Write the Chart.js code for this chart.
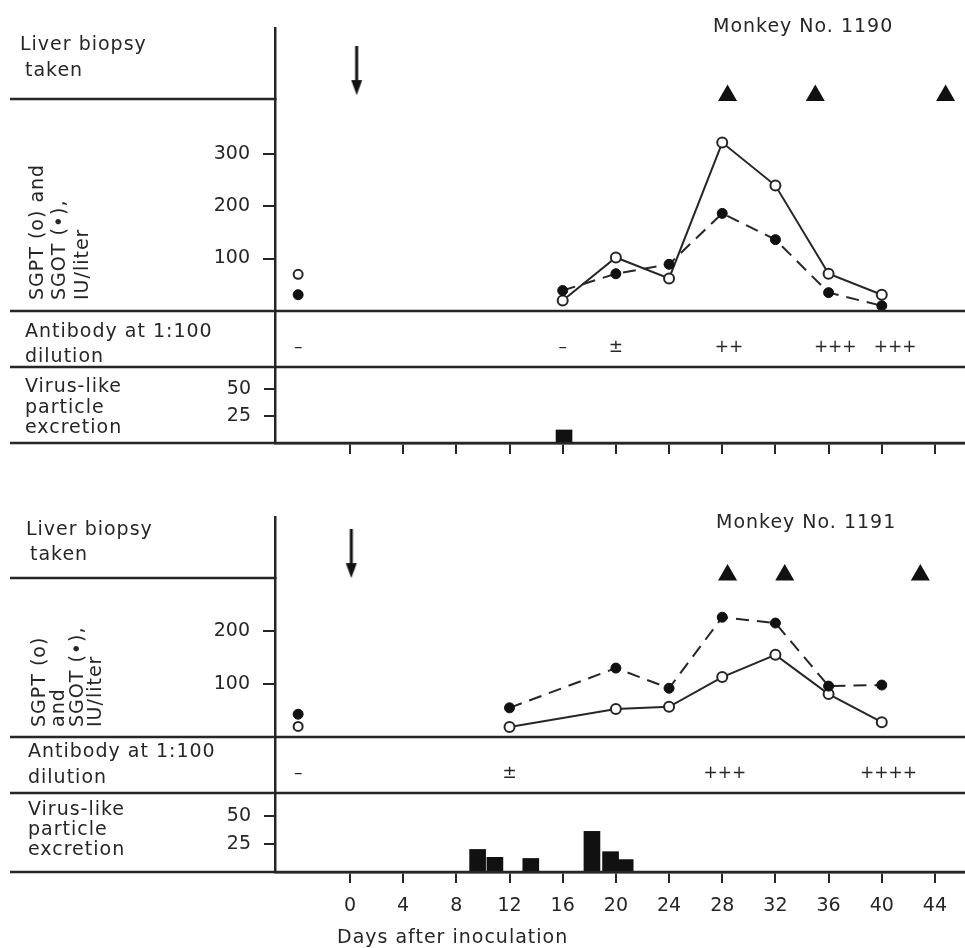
<!DOCTYPE html>
<html>
<head>
<meta charset="utf-8">
<script src="https://cdn.jsdelivr.net/npm/chart.js@4.4.0/dist/chart.umd.min.js"></script>
<style>
    html, body { margin: 0; padding: 0; background: #fff; }
    #page { position: relative; width: 965px; height: 948px; overflow: hidden; }
    .panel { position: absolute; left: 0; width: 965px; }
</style>
</head>
<body>
<div id="page">
    <div class="panel" style="top:0;height:470px"><canvas id="chart1190"></canvas></div>
    <div class="panel" style="top:470px;height:478px"><canvas id="chart1191"></canvas></div>
</div>
<script>
// Days after inoculation (shared x axis)
const xTicks = [0, 4, 8, 12, 16, 20, 24, 28, 32, 36, 40, 44];
const vlpTicks = [25, 50];
const preDay = -3.9;

// Monkey No. 1190
const days1190 = [16, 20, 24, 28, 32, 36, 40];
const sgpt1190 = [20, 102, 62, 321, 239, 71, 31];
const sgot1190 = [39, 71, 89, 186, 136, 35, 10];
const preSgpt1190 = 70;
const preSgot1190 = 31;
const inoculation1190 = 0.5;
const biopsyDays1190 = [28.4, 35, 44.8];
const abDays1190 = [-3.9, 16, 20, 28.5, 36.5, 41];
const abSigns1190 = ['\u2013', '\u2013', '\u00b1', '++', '+++', '+++'];
const vlpDays1190 = [16.1];
const vlpValues1190 = [12];
const enzTicks1190 = [100, 200, 300];

// Monkey No. 1191
const days1191 = [12, 20, 24, 28, 32, 36, 40];
const sgpt1191 = [19, 53, 57, 113, 155, 81, 28];
const sgot1191 = [55, 130, 92, 226, 215, 96, 98];
const preSgpt1191 = 20;
const preSgot1191 = 43;
const inoculation1191 = 0.1;
const biopsyDays1191 = [28.4, 32.7, 42.9];
const abDays1191 = [-3.9, 12, 28.2, 40.5];
const abSigns1191 = ['\u2013', '\u00b1', '+++', '++++'];
const vlpDays1191 = [9.6, 10.9, 13.6, 18.2, 19.6, 20.7];
const vlpValues1191 = [20, 13, 12, 36, 18, 11];
const enzTicks1191 = [100, 200];

const INK = '#262626';
const FONT = 'DejaVu Sans';
const X_MIN = -5.64;
const X_MAX = 46.26;
const AXIS_X = 275;
const LINE_LEFT = 10;
const ARROW_Y = 0.4;
const BIOPSY_Y = 0.05;
const AB_Y = 0.35;

Chart.defaults.font.family = FONT;
Chart.defaults.font.size = 19;
Chart.defaults.color = INK;

// inoculation arrow used as a point style
function makeArrow() {
    const c = document.createElement('canvas');
    c.width = 14;
    c.height = 49;
    const g = c.getContext('2d');
    g.fillStyle = '#111';
    g.fillRect(5.5, 0, 3, 36);
    g.beginPath();
    g.moveTo(1.5, 34);
    g.lineTo(12.5, 34);
    g.lineTo(7, 49);
    g.closePath();
    g.fill();
    return c;
}

function pts(xs, ys) {
    return xs.map((x, i) => ({ x: x, y: ys[i] }));
}

function decorPlugin(p) {
    return {
        id: 'decor' + p.name,
        afterDraw(chart) {
            const ctx = chart.ctx;
            const { x, enz, ab, vir } = chart.scales;
            const dy = p.offsetY;
            ctx.save();
            // row separators
            ctx.strokeStyle = INK;
            ctx.lineWidth = 2.5;
            [[enz.top, false], [ab.top, true], [vir.top, true], [vir.bottom, true]].forEach(([y, full]) => {
                ctx.beginPath();
                ctx.moveTo(LINE_LEFT, y);
                ctx.lineTo(full ? chart.width : x.left, y);
                ctx.stroke();
            });
            // antibody signs
            ctx.fillStyle = INK;
            ctx.font = '17px ' + FONT;
            ctx.textAlign = 'center';
            ctx.textBaseline = 'middle';
            p.abDays.forEach((d, i) => {
                ctx.fillText(p.abSigns[i], x.getPixelForValue(d), ab.getPixelForValue(AB_Y));
            });
            // row labels
            ctx.font = '19px ' + FONT;
            ctx.letterSpacing = '1px';
            ctx.textAlign = 'left';
            p.labels.forEach(l => ctx.fillText(l[0], l[1], l[2] - dy));
            ctx.textBaseline = 'alphabetic';
            p.rotLabels.forEach(l => {
                ctx.save();
                ctx.translate(l[1], l[2] - dy);
                ctx.rotate(-Math.PI / 2);
                ctx.fillText(l[0], 0, 0);
                ctx.restore();
            });
            ctx.restore();
        }
    };
}

function buildPanel(p) {
    const fitY = s => { s.width = AXIS_X; };
    const yBase = {
        type: 'linear', position: 'left', stack: 'panel', min: 0, afterFit: fitY,
        border: { display: true, color: INK, width: 2.5 }
    };
    const chart = new Chart(document.getElementById(p.canvas), {
        type: 'line',
        data: {
            datasets: [
                {
                    type: 'line', label: 'SGOT', data: pts(p.days, p.sgot), yAxisID: 'enz',
                    borderColor: INK, borderWidth: 2, borderDash: [13, 8], tension: 0,
                    pointRadius: 5, pointBackgroundColor: '#111', pointBorderColor: '#111', pointBorderWidth: 1, clip: false
                },
                {
                    type: 'line', label: 'SGPT', data: pts(p.days, p.sgpt), yAxisID: 'enz',
                    borderColor: INK, borderWidth: 2, tension: 0,
                    pointRadius: 5, pointBackgroundColor: '#fff', pointBorderColor: INK, pointBorderWidth: 2, clip: false
                },
                {
                    type: 'scatter', label: 'SGOT pre', data: [{ x: preDay, y: p.preSgot }], yAxisID: 'enz',
                    pointRadius: 5, pointBackgroundColor: '#111', pointBorderColor: '#111', clip: false
                },
                {
                    type: 'scatter', label: 'SGPT pre', data: [{ x: preDay, y: p.preSgpt }], yAxisID: 'enz',
                    pointRadius: 4.5, pointBackgroundColor: '#fff', pointBorderColor: INK, pointBorderWidth: 2, clip: false
                },
                {
                    type: 'scatter', label: 'Liver biopsy', data: p.biopsyDays.map(d => ({ x: d, y: BIOPSY_Y })), yAxisID: 'bio',
                    pointStyle: 'triangle', pointRadius: 11, pointBackgroundColor: '#111', pointBorderColor: '#111', pointBorderWidth: 0, clip: false
                },
                {
                    type: 'scatter', label: 'Inoculation', data: [{ x: p.inoculation, y: ARROW_Y }], yAxisID: 'bio',
                    pointStyle: makeArrow(), pointRadius: 10, clip: false
                },
                {
                    type: 'bar', label: 'Virus-like particles', data: pts(p.vlpDays, p.vlpValues), yAxisID: 'vir',
                    backgroundColor: '#111', barThickness: 16, borderWidth: 0
                }
            ]
        },
        options: {
            responsive: true,
            maintainAspectRatio: false,
            animation: false,
            layout: { autoPadding: false, padding: { top: p.padTop, left: 0, right: 0, bottom: 0 } },
            plugins: { legend: { display: false }, tooltip: { enabled: false } },
            scales: {
                x: {
                    type: 'linear', position: 'bottom', min: X_MIN, max: X_MAX, offset: false,
                    afterBuildTicks: s => { s.ticks = xTicks.map(v => ({ value: v })); },
                    afterFit: s => {
                        s.height = p.xHeight;
                        s.paddingLeft = 0;
                        s.paddingRight = 0;
                    },
                    grid: { offset: false, drawOnChartArea: false, drawTicks: true, tickLength: 11, color: INK, lineWidth: 2 },
                    border: { display: true, color: INK, width: 2.5 },
                    ticks: { display: p.showX, padding: 12, color: INK, font: { size: 19 }, maxRotation: 0, autoSkip: false }
                },
                bio: Object.assign({}, yBase, {
                    weight: 4, stackWeight: p.rows[0], max: 1,
                    ticks: { display: false }, grid: { display: false }
                }),
                enz: Object.assign({}, yBase, {
                    weight: 3, stackWeight: p.rows[1], max: p.enzMax,
                    afterBuildTicks: s => { s.ticks = p.enzTicks.map(v => ({ value: v })); },
                    ticks: { padding: 13, color: INK, font: { size: 19 } },
                    grid: { drawOnChartArea: false, tickLength: 12, color: INK, lineWidth: 2 }
                }),
                ab: Object.assign({}, yBase, {
                    weight: 2, stackWeight: p.rows[2], max: 1,
                    ticks: { display: false }, grid: { display: false }
                }),
                vir: Object.assign({}, yBase, {
                    weight: 1, stackWeight: p.rows[3], max: 70,
                    afterBuildTicks: s => { s.ticks = vlpTicks.map(v => ({ value: v })); },
                    ticks: { padding: 13, color: INK, font: { size: 19 } },
                    grid: { drawOnChartArea: false, tickLength: 11, color: INK, lineWidth: 2 }
                })
            }
        },
        plugins: [decorPlugin(p)]
    });
    // let the plot area reach the right edge of the figure
    const gap = chart.width - chart.chartArea.right;
    if (gap > 0.5) {
        chart.options.layout.padding.right = -gap;
        chart.update();
    }
    return chart;
}

buildPanel({
    name: '1190', canvas: 'chart1190', offsetY: 0, padTop: 28, xHeight: 27, showX: false,
    rows: [71, 212, 56, 76], enzMax: 404, enzTicks: enzTicks1190,
    days: days1190, sgpt: sgpt1190, sgot: sgot1190, preSgpt: preSgpt1190, preSgot: preSgot1190,
    inoculation: inoculation1190, biopsyDays: biopsyDays1190,
    abDays: abDays1190, abSigns: abSigns1190, vlpDays: vlpDays1190, vlpValues: vlpValues1190,
    labels: [
        ['Monkey No. 1190', 713, 27],
        ['Liver biopsy', 20, 45], ['taken', 25, 71],
        ['Antibody at 1:100', 25, 332], ['dilution', 25, 357],
        ['Virus-like', 25, 387], ['particle', 25, 408], ['excretion', 25, 428]
    ],
    rotLabels: [
        ['SGPT (o) and', 43, 300], ['SGOT (\u2022),', 65, 300], ['IU/liter', 88, 300]
    ]
});

buildPanel({
    name: '1191', canvas: 'chart1191', offsetY: 470, padTop: 47, xHeight: 76, showX: true,
    rows: [61, 159, 56, 79], enzMax: 300, enzTicks: enzTicks1191,
    days: days1191, sgpt: sgpt1191, sgot: sgot1191, preSgpt: preSgpt1191, preSgot: preSgot1191,
    inoculation: inoculation1191, biopsyDays: biopsyDays1191,
    abDays: abDays1191, abSigns: abSigns1191, vlpDays: vlpDays1191, vlpValues: vlpValues1191,
    labels: [
        ['Monkey No. 1191', 716, 523],
        ['Liver biopsy', 26, 530], ['taken', 30, 555],
        ['Antibody at 1:100', 28, 752], ['dilution', 28, 778],
        ['Virus-like', 28, 810], ['particle', 28, 830], ['excretion', 28, 850],
        ['Days after inoculation', 337, 938]
    ],
    rotLabels: [
        ['SGPT (o)', 45, 727], ['and', 64, 727], ['SGOT (\u2022),', 83, 727], ['IU/liter', 101, 727]
    ]
});
</script>
</body>
</html>
